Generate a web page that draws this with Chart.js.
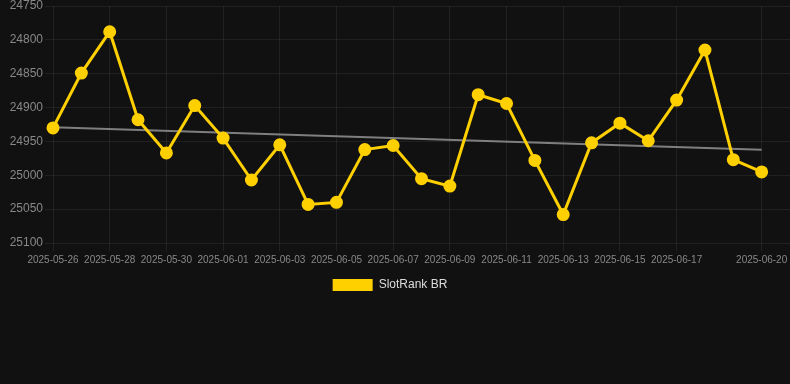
<!DOCTYPE html>
<html>
<head>
<meta charset="utf-8">
<script src="https://cdn.jsdelivr.net/npm/chart.js@4.4.1/dist/chart.umd.min.js"></script>
<style>
  html, body { margin: 0; padding: 0; background: #111111; }
  #wrap { width: 790px; height: 301px; position: relative; }
</style>
</head>
<body>
<div id="wrap"><canvas id="c"></canvas></div>
<script>
const dates = ["2025-05-26","2025-05-27","2025-05-28","2025-05-29","2025-05-30","2025-05-31",
  "2025-06-01","2025-06-02","2025-06-03","2025-06-04","2025-06-05","2025-06-06","2025-06-07",
  "2025-06-08","2025-06-09","2025-06-10","2025-06-11","2025-06-12","2025-06-13","2025-06-14",
  "2025-06-15","2025-06-16","2025-06-17","2025-06-18","2025-06-19","2025-06-20"];
const rankValues = [24930, 24849, 24788, 24918, 24967, 24897, 24945, 25007, 24955, 25043, 25040,
  24962, 24956, 25005, 25016, 24881, 24894, 24978, 25058, 24952, 24923, 24949, 24889, 24815,
  24977, 24995];
const shownTickIdx = [0, 2, 4, 6, 8, 10, 12, 14, 16, 18, 20, 22, 25];
const yTicks = [24750, 24800, 24850, 24900, 24950, 25000, 25050, 25100];
const seriesName = "SlotRank BR";

// least-squares trend line over the series
const n = rankValues.length;
const mx = (n - 1) / 2;
const my = rankValues.reduce((a, b) => a + b, 0) / n;
let sxy = 0, sxx = 0;
rankValues.forEach((v, i) => { sxy += (i - mx) * (v - my); sxx += (i - mx) * (i - mx); });
const slope = sxy / sxx;
const trend = [0, n - 1].map(i => ({ x: i, y: my + slope * (i - mx) }));

const pts = rankValues.map((v, i) => ({ x: i, y: v }));
const YELLOW = '#FFD000';

const legendNudge = {
  id: 'legendNudge',
  beforeDraw(chart) {
    const lg = chart.legend;
    if (lg && !lg._nudged) { lg.left -= 5; lg.right -= 5; lg._nudged = true; }
  }
};

new Chart(document.getElementById('c'), {
  type: 'line',
  plugins: [legendNudge],
  data: {
    datasets: [
      {
        label: seriesName,
        data: pts,
        borderColor: YELLOW,
        backgroundColor: YELLOW,
        borderWidth: 3,
        pointRadius: 5,
        pointHoverRadius: 5,
        pointBackgroundColor: YELLOW,
        pointBorderColor: YELLOW,
        tension: 0,
        clip: false,
        order: 1
      },
      {
        label: 'trend',
        data: trend,
        borderColor: 'rgba(140,140,140,0.9)',
        borderWidth: 2,
        pointRadius: 0,
        fill: false,
        order: 2
      }
    ]
  },
  options: {
    responsive: true,
    maintainAspectRatio: false,
    animation: false,
    layout: { padding: 0, autoPadding: false },
    plugins: {
      legend: {
        position: 'bottom',
        labels: {
          color: '#dddddd',
          font: { family: 'Liberation Sans, Arial, sans-serif', size: 12 },
          boxWidth: 40,
          boxHeight: 12,
          generateLabels: chart => [{
            text: seriesName,
            fillStyle: YELLOW,
            strokeStyle: YELLOW,
            lineWidth: 0,
            fontColor: '#dddddd',
            hidden: false,
            datasetIndex: 0
          }]
        }
      },
      tooltip: { enabled: false }
    },
    scales: {
      x: {
        type: 'linear',
        min: 0,
        max: n,
        afterBuildTicks: axis => { axis.ticks = shownTickIdx.map(v => ({ value: v })); },
        afterFit: axis => { axis.paddingLeft = 0; axis.paddingRight = 0; },
        ticks: {
          autoSkip: false,
          maxRotation: 0,
          color: '#888888',
          font: { family: 'Liberation Sans, Arial, sans-serif', size: 10 },
          callback: v => dates[v]
        },
        grid: { color: 'rgba(255,255,255,0.07)' },
        border: { display: false }
      },
      y: {
        reverse: true,
        min: 24750,
        max: 25100,
        afterBuildTicks: axis => { axis.ticks = yTicks.map(v => ({ value: v })); },
        afterFit: axis => { axis.width = 53; axis.paddingTop = 6; axis.paddingBottom = 0; },
        ticks: {
          padding: 2,
          color: '#888888',
          font: { family: 'Liberation Sans, Arial, sans-serif', size: 12 },
          callback: v => String(v)
        },
        grid: { color: 'rgba(255,255,255,0.07)' },
        border: { display: false }
      }
    }
  }
});
</script>
</body>
</html>
